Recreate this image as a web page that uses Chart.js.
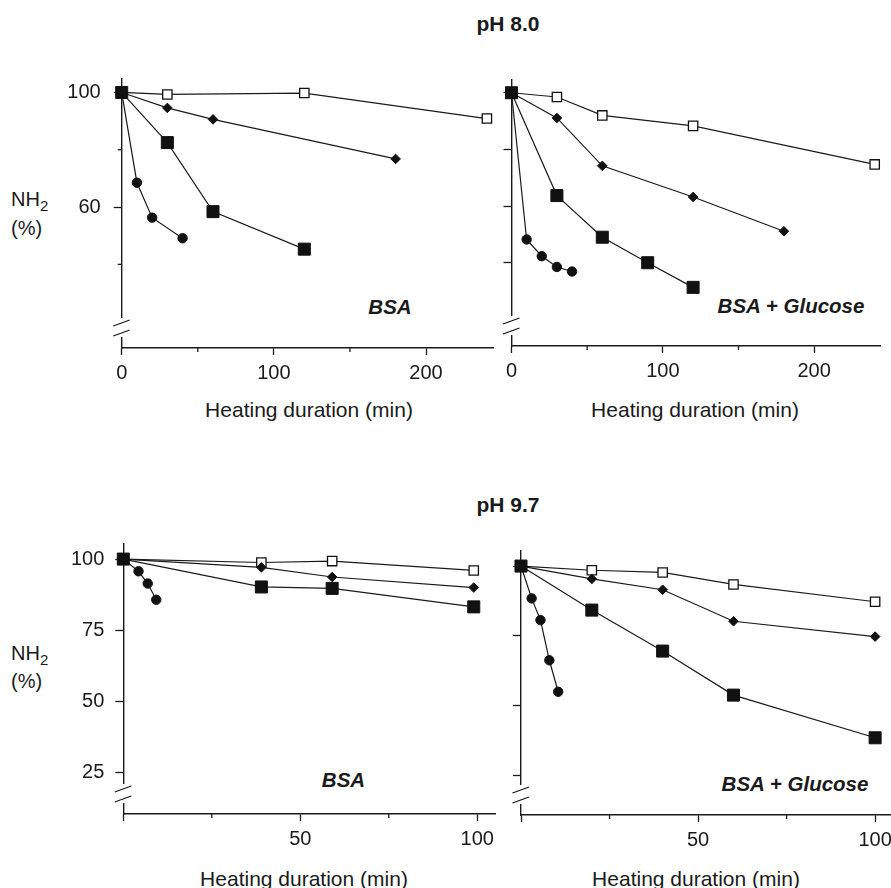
<!DOCTYPE html>
<html><head><meta charset="utf-8">
<script src="https://cdn.jsdelivr.net/npm/chart.js@4.4.1/dist/chart.umd.min.js"></script>
<style>
html,body{margin:0;padding:0;background:#fff;}
body{width:891px;height:888px;overflow:hidden;position:relative;font-family:'Liberation Sans',Arial,Helvetica,sans-serif;color:#1a1a1a;}
.t{position:absolute;white-space:nowrap;line-height:1;transform:translate(-50%,-50%);}
.l{position:absolute;white-space:nowrap;line-height:1;transform:translate(0,-50%);}
canvas{position:absolute;}
.h{font-weight:bold;font-size:21px;}
.ax{font-size:21px;}
.bsa{font-weight:bold;font-style:italic;font-size:20.5px;}
.nh{font-size:20px;}
.nh span{position:relative;top:5px;font-size:15px;}
</style></head><body>

<div class="t h" style="left:508px;top:23px">pH 8.0</div>
<div class="t h" style="left:508px;top:504px">pH 9.7</div>

<div class="l nh" style="left:11px;top:199px">NH<span>2</span></div>
<div class="l nh" style="left:11px;top:227.5px">(%)</div>
<div class="l nh" style="left:11px;top:652.5px">NH<span>2</span></div>
<div class="l nh" style="left:11px;top:681px">(%)</div>

<div class="t ax" style="left:309px;top:409px">Heating duration (min)</div>
<div class="t ax" style="left:695px;top:409px">Heating duration (min)</div>
<div class="t ax" style="left:304px;top:877.5px">Heating duration (min)</div>
<div class="t ax" style="left:696px;top:877.5px">Heating duration (min)</div>

<div class="t bsa" style="left:390px;top:306.7px">BSA</div>
<div class="t bsa" style="left:791px;top:305.7px">BSA + Glucose</div>
<div class="t bsa" style="left:343.5px;top:780px">BSA</div>
<div class="t bsa" style="left:795px;top:784.3px">BSA + Glucose</div>

<script>
// ---------- DATA ----------
// pH 8.0 — BSA
const ph80BsaFilledSqX = [0, 30, 60, 120];
const ph80BsaFilledSqY = [100, 82.5, 58.4, 45.3];
const ph80BsaDiamondX = [0, 30, 60, 180];
const ph80BsaDiamondY = [100, 94.6, 90.6, 76.8];
const ph80BsaCircleX = [0, 10, 20, 40];
const ph80BsaCircleY = [100, 68.5, 56.3, 49.1];
const ph80BsaOpenSqX = [0, 30, 120, 240];
const ph80BsaOpenSqY = [100, 99.3, 99.8, 90.9];
// pH 8.0 — BSA + Glucose
const ph80GluFilledSqX = [0, 30, 60, 90, 120];
const ph80GluFilledSqY = [100, 63.7, 49.0, 40.0, 31.3];
const ph80GluDiamondX = [0, 30, 60, 120, 180];
const ph80GluDiamondY = [100, 91.1, 74.2, 63.2, 51.1];
const ph80GluCircleX = [0, 10, 20, 30, 40];
const ph80GluCircleY = [100, 48.2, 42.3, 38.5, 36.9];
const ph80GluOpenSqX = [0, 30, 60, 120, 240];
const ph80GluOpenSqY = [100, 98.5, 92.0, 88.3, 74.7];
// pH 9.7 — BSA
const ph97BsaFilledSqX = [0, 39, 59, 99];
const ph97BsaFilledSqY = [100, 90.2, 89.7, 83.2];
const ph97BsaDiamondX = [0, 39, 59, 99];
const ph97BsaDiamondY = [100, 97.1, 93.7, 90.0];
const ph97BsaCircleX = [0, 4.3, 6.9, 9.3];
const ph97BsaCircleY = [100, 95.7, 91.4, 85.7];
const ph97BsaOpenSqX = [0, 39, 59, 99];
const ph97BsaOpenSqY = [100, 98.8, 99.3, 96.0];
// pH 9.7 — BSA + Glucose
const ph97GluFilledSqX = [0, 20, 40, 60, 100];
const ph97GluFilledSqY = [100, 84.2, 69.5, 53.7, 38.4];
const ph97GluDiamondX = [0, 20, 40, 60, 100];
const ph97GluDiamondY = [100, 95.4, 91.5, 80.2, 74.7];
const ph97GluCircleX = [0, 3, 5.5, 8, 10.5];
const ph97GluCircleY = [100, 88.4, 80.6, 66.2, 54.9];
const ph97GluOpenSqX = [0, 20, 40, 60, 100];
const ph97GluOpenSqY = [100, 98.5, 97.7, 93.4, 87.2];

// tick values / labels
const ph80XTicks = [0, 100, 200];
const ph80XTickLabels = ['0', '100', '200'];
const ph80XMinorTicks = [50, 150];
const ph80BsaYTicks = [60, 100];
const ph80BsaYTickLabels = ['60', '100'];
const ph80BsaYMinorTicks = [40, 80];
const ph80GluYTicks = [40, 60, 80, 100];
const ph97XTicks = [0, 50, 100];
const ph97XTickLabels = ['', '50', '100'];
const ph97XMinorTicks = [25, 75];
const ph97YTicks = [25, 50, 75, 100];
const ph97YTickLabels = ['25', '50', '75', '100'];

// ---------- LAYOUT ----------
const FONT = "'Liberation Sans', Arial, Helvetica, sans-serif";
const INK = '#1a1a1a';

function pts(xs, ys){ return xs.map((x,i)=>({x:x, y:ys[i]})); }

function series(fx,fy,dx,dy,cx,cy,ox,oy){
  const line = {showLine:true, tension:0, borderColor:INK, borderWidth:1.2, clip:false};
  return [
    Object.assign({label:'filled square', data:pts(fx,fy), pointStyle:'rect', pointRadius:8.5, pointBackgroundColor:'#111', pointBorderColor:'#111', pointBorderWidth:1}, line),
    Object.assign({label:'diamond', data:pts(dx,dy), pointStyle:'rectRot', pointRadius:4.8, pointBackgroundColor:'#111', pointBorderColor:'#111', pointBorderWidth:1}, line),
    Object.assign({label:'circle', data:pts(cx,cy), pointStyle:'circle', pointRadius:4.7, pointBackgroundColor:'#111', pointBorderColor:'#111', pointBorderWidth:1}, line),
    Object.assign({label:'open square', data:pts(ox,oy), pointStyle:'rect', pointRadius:6.6, pointBackgroundColor:'#fff', pointBorderColor:'#111', pointBorderWidth:1.3}, line)
  ];
}

const panels = [
  {L:121.7, R:493, T:68.5, B:347.5, xMin:0, xMax:244, yMin:10.8, yMax:104.7,
   xTicks:ph80XTicks, xLabels:ph80XTickLabels, xMinor:ph80XMinorTicks,
   yTicks:ph80BsaYTicks, yLabels:ph80BsaYTickLabels, yMinor:ph80BsaYMinorTicks, yPad:13,
   datasets:series(ph80BsaFilledSqX,ph80BsaFilledSqY,ph80BsaDiamondX,ph80BsaDiamondY,ph80BsaCircleX,ph80BsaCircleY,ph80BsaOpenSqX,ph80BsaOpenSqY)},
  {L:511.5, R:880, T:69.5, B:346, xMin:0, xMax:243.5, yMin:10.6, yMax:104.5,
   xTicks:ph80XTicks, xLabels:ph80XTickLabels, xMinor:ph80XMinorTicks,
   yTicks:ph80GluYTicks, yLabels:null, yMinor:[], yPad:13,
   datasets:series(ph80GluFilledSqX,ph80GluFilledSqY,ph80GluDiamondX,ph80GluDiamondY,ph80GluCircleX,ph80GluCircleY,ph80GluOpenSqX,ph80GluOpenSqY)},
  {L:123.3, R:495, T:535, B:813.5, xMin:0, xMax:105, yMin:10.4, yMax:105.3,
   xTicks:ph97XTicks, xLabels:ph97XTickLabels, xMinor:ph97XMinorTicks,
   yTicks:ph97YTicks, yLabels:ph97YTickLabels, yMinor:[], yPad:11,
   datasets:series(ph97BsaFilledSqX,ph97BsaFilledSqY,ph97BsaDiamondX,ph97BsaDiamondY,ph97BsaCircleX,ph97BsaCircleY,ph97BsaOpenSqX,ph97BsaOpenSqY)},
  {L:521, R:890, T:542.7, B:814.3, xMin:0, xMax:104.2, yMin:10.7, yMax:105.4,
   xTicks:ph97XTicks, xLabels:ph97XTickLabels, xMinor:ph97XMinorTicks,
   yTicks:ph97YTicks, yLabels:null, yMinor:[], yPad:11,
   datasets:series(ph97GluFilledSqX,ph97GluFilledSqY,ph97GluDiamondX,ph97GluDiamondY,ph97GluCircleX,ph97GluCircleY,ph97GluOpenSqX,ph97GluOpenSqY)}
];

function makePanel(p){
  const left = Math.floor(p.L - 112);
  const top = Math.floor(p.T - 14);
  const wy = p.L - left;
  const padTop = p.T - top;
  const padRight = 14;
  const hx = 45;
  const w = Math.ceil(p.R - p.L + wy + padRight);
  const h = Math.ceil(p.B - p.T + padTop + hx);
  const cv = document.createElement('canvas');
  cv.width = w; cv.height = h;
  cv.style.left = left + 'px'; cv.style.top = top + 'px';
  cv.style.width = w + 'px'; cv.style.height = h + 'px';
  document.body.appendChild(cv);

  const extras = {
    id:'extras',
    afterDraw(chart){
      const ctx = chart.ctx, ca = chart.chartArea;
      const xs = chart.scales.x, ys = chart.scales.y;
      ctx.save();
      ctx.strokeStyle = INK; ctx.lineWidth = 1.3;
      // minor ticks
      p.xMinor.forEach(v=>{
        const px = xs.getPixelForValue(v);
        ctx.beginPath(); ctx.moveTo(px, ca.bottom); ctx.lineTo(px, ca.bottom + 4); ctx.stroke();
      });
      p.yMinor.forEach(v=>{
        const py = ys.getPixelForValue(v);
        ctx.beginPath(); ctx.moveTo(ca.left - 4, py); ctx.lineTo(ca.left, py); ctx.stroke();
      });
      // axis break
      const x0 = ca.left;
      ctx.fillStyle = '#fff';
      ctx.fillRect(x0 - 2.5, ca.bottom - 30, 5, 19);
      [ca.bottom - 25, ca.bottom - 15].forEach(y=>{
        ctx.beginPath(); ctx.moveTo(x0 - 8.5, y + 3); ctx.lineTo(x0 + 8, y - 3); ctx.stroke();
      });
      ctx.restore();
    }
  };

  new Chart(cv, {
    type:'line',
    data:{datasets:p.datasets},
    options:{
      responsive:false, animation:false, devicePixelRatio:1,
      layout:{padding:{left:0, top:padTop, right:padRight, bottom:0}},
      plugins:{legend:{display:false}, tooltip:{enabled:false}},
      events:[],
      scales:{
        x:{type:'linear', min:p.xMin, max:p.xMax,
          afterFit(s){ s.height = hx; },
          afterBuildTicks(s){ s.ticks = p.xTicks.map(v=>({value:v})); },
          ticks:{autoSkip:false, maxRotation:0, padding:6, color:INK, font:{family:FONT, size:20},
            callback:(v)=>{ const i = p.xTicks.indexOf(v); return i>=0 ? p.xLabels[i] : ''; }},
          grid:{display:true, drawOnChartArea:false, drawTicks:true, tickLength:7, tickColor:INK, tickWidth:1.3},
          border:{display:true, color:INK, width:1.4}
        },
        y:{type:'linear', min:p.yMin, max:p.yMax,
          afterFit(s){ s.width = wy; },
          afterBuildTicks(s){ s.ticks = p.yTicks.map(v=>({value:v})); },
          ticks:{autoSkip:false, padding:p.yPad, color:INK, font:{family:FONT, size:20},
            callback:(v)=>{ if(!p.yLabels) return ''; const i = p.yTicks.indexOf(v); return i>=0 ? p.yLabels[i] : ''; }},
          grid:{display:true, drawOnChartArea:false, drawTicks:true, tickLength:8, tickColor:INK, tickWidth:1.3},
          border:{display:true, color:INK, width:1.4}
        }
      }
    },
    plugins:[extras]
  });
}
panels.forEach(makePanel);
</script>
</body></html>
